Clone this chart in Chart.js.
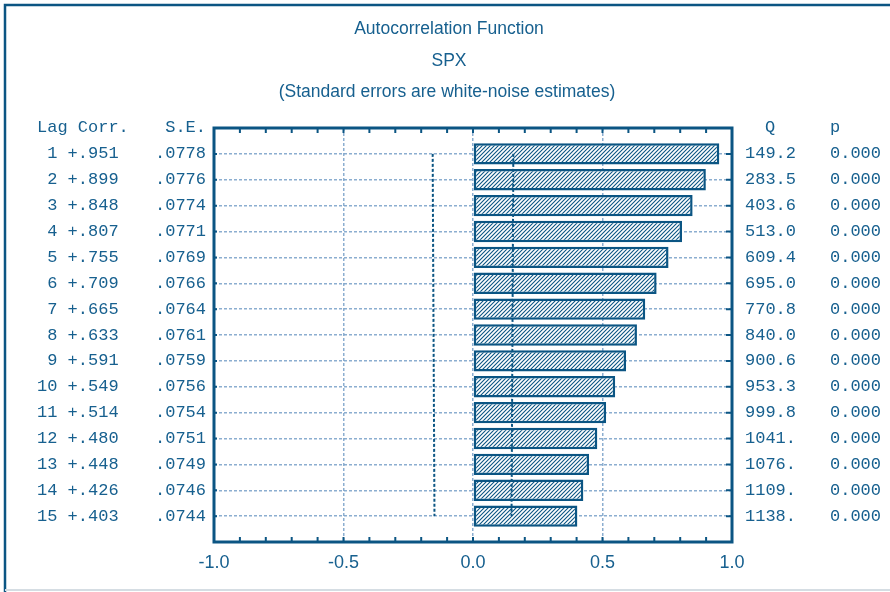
<!DOCTYPE html>
<html>
<head>
<meta charset="utf-8">
<script src="https://cdn.jsdelivr.net/npm/chart.js@4"></script>
<style>
  html, body { margin: 0; padding: 0; background: #fff; }
  #wrap { width: 890px; height: 592px; }
</style>
</head>
<body>
<div id="wrap"><canvas id="acfChart" width="890" height="592"></canvas></div>
<script>
const lags = [1, 2, 3, 4, 5, 6, 7, 8, 9, 10, 11, 12, 13, 14, 15];
const corr = [0.951, 0.899, 0.848, 0.807, 0.755, 0.709, 0.665, 0.633, 0.591, 0.549, 0.514, 0.480, 0.448, 0.426, 0.403];
const stdErr = [0.0778, 0.0776, 0.0774, 0.0771, 0.0769, 0.0766, 0.0764, 0.0761, 0.0759, 0.0756, 0.0754, 0.0751, 0.0749, 0.0746, 0.0744];
const qStats = ["149.2", "283.5", "403.6", "513.0", "609.4", "695.0", "770.8", "840.0", "900.6", "953.3", "999.8", "1041.", "1076.", "1109.", "1138."];
const pValues = ["0.000", "0.000", "0.000", "0.000", "0.000", "0.000", "0.000", "0.000", "0.000", "0.000", "0.000", "0.000", "0.000", "0.000", "0.000"];
const xTicks = [-1, -0.5, 0, 0.5, 1];
const titleLines = ["Autocorrelation Function", "SPX", "(Standard errors are white-noise estimates)"];

const dark = "#0b5583";
const textCol = "#17608f";
const gridCol = "rgba(120,160,200,0.85)";

// hatch fill for the bars
function hatch() {
  const c = document.createElement("canvas");
  c.width = 4; c.height = 4;
  const g = c.getContext("2d");
  g.fillStyle = "#fff";
  g.fillRect(0, 0, 4, 4);
  g.strokeStyle = dark;
  g.lineWidth = 1.1;
  g.beginPath();
  g.moveTo(0, 4); g.lineTo(4, 0);
  g.moveTo(-1, 1); g.lineTo(1, -1);
  g.moveTo(3, 5); g.lineTo(5, 3);
  g.stroke();
  return g.createPattern(c, "repeat");
}

const framePlugin = {
  id: "frame",
  beforeDraw(chart) {
    const ctx = chart.ctx;
    ctx.save();
    ctx.strokeStyle = dark;
    ctx.lineWidth = 2.5;
    ctx.beginPath();
    ctx.moveTo(5, 592); ctx.lineTo(5, 5); ctx.lineTo(890, 5);
    ctx.stroke();
    ctx.strokeStyle = "#d5dde3";
    ctx.lineWidth = 2;
    ctx.beginPath();
    ctx.moveTo(5, 590); ctx.lineTo(890, 590);
    ctx.stroke();
    ctx.restore();
  },
  afterDraw(chart) {
    const ctx = chart.ctx;
    const a = chart.chartArea;
    const xs = chart.scales.x, ys = chart.scales.y;
    ctx.save();
    // axis box
    ctx.strokeStyle = dark;
    ctx.lineWidth = 3;
    ctx.strokeRect(a.left, a.top, a.right - a.left, a.bottom - a.top);
    // inward ticks
    ctx.lineWidth = 2;
    ctx.beginPath();
    for (let k = -9; k <= 9; k++) {
      const px = xs.getPixelForValue(k / 10);
      ctx.moveTo(px, a.top); ctx.lineTo(px, a.top + 5);
      ctx.moveTo(px, a.bottom); ctx.lineTo(px, a.bottom - 5);
    }
    lags.forEach(l => {
      const py = ys.getPixelForValue(l);
      ctx.moveTo(a.right, py); ctx.lineTo(a.right - 6, py);
      ctx.moveTo(a.left, py); ctx.lineTo(a.left + 3, py);
    });
    ctx.stroke();

    // titles
    ctx.fillStyle = textCol;
    ctx.textBaseline = "middle";
    ctx.textAlign = "center";
    ctx.font = '17.5px "Liberation Sans", Arial, sans-serif';
    ctx.fillText(titleLines[0], 449, 29);
    ctx.fillText(titleLines[1], 449, 61);
    ctx.fillText(titleLines[2], 447, 92);

    // table columns
    ctx.font = '17px "Liberation Mono", "Courier New", monospace';
    const headY = 127;
    ctx.textAlign = "left";
    ctx.fillText("Lag Corr.", 37, headY);
    ctx.fillText("Q", 765, headY);
    ctx.fillText("p", 830, headY);
    ctx.textAlign = "right";
    ctx.fillText("S.E.", 206, headY);
    lags.forEach((l, i) => {
      const py = ys.getPixelForValue(l);
      const c = (corr[i] >= 0 ? "+" : "-") + Math.abs(corr[i]).toFixed(3).slice(1);
      ctx.textAlign = "left";
      ctx.fillText(String(l).padStart(2, " ") + " " + c, 37, py);
      ctx.fillText(qStats[i], 745, py);
      ctx.fillText(pValues[i], 830, py);
      ctx.textAlign = "right";
      ctx.fillText(stdErr[i].toFixed(4).slice(1), 206, py);
    });
    ctx.restore();
  }
};

const ctx = document.getElementById("acfChart");

new Chart(ctx, {
  data: {
    datasets: [
      {
        type: "bar",
        indexAxis: "y",
        data: lags.map((l, i) => ({ x: corr[i], y: l })),
        backgroundColor: hatch(),
        borderColor: dark,
        borderWidth: 2.5,
        borderSkipped: false,
        barPercentage: 0.83,
        categoryPercentage: 1,
        order: 2,
      },
      {
        type: "line",
        indexAxis: "y",
        data: lags.map((l, i) => ({ x: -2 * stdErr[i], y: l })),
        borderColor: dark,
        borderWidth: 2,
        borderDash: [3, 2],
        pointRadius: 0,
        fill: false,
        order: 1,
      },
      {
        type: "line",
        indexAxis: "y",
        data: lags.map((l, i) => ({ x: 2 * stdErr[i], y: l })),
        borderColor: dark,
        borderWidth: 2,
        borderDash: [3, 2],
        pointRadius: 0,
        fill: false,
        order: 1,
      },
    ],
  },
  options: {
    responsive: false,
    animation: false,
    layout: { padding: { left: 214, right: 158, top: 128, bottom: 0 } },
    plugins: {
      legend: { display: false },
      tooltip: { enabled: false },
    },
    scales: {
      x: {
        type: "linear",
        min: -1,
        max: 1,
        offset: false,
        afterBuildTicks: s => { s.ticks = xTicks.map(v => ({ value: v })); },
        afterFit: s => { s.height = 50; },
        ticks: {
          callback: v => v.toFixed(1),
          color: textCol,
          font: { family: '"Liberation Sans", Arial, sans-serif', size: 18 },
          padding: 10,
          maxRotation: 0,
        },
        grid: { color: gridCol, lineWidth: 1.5, drawTicks: false, offset: false },
        border: { display: false, dash: [3, 2] },
      },
      y: {
        type: "linear",
        min: 0,
        max: 16,
        reverse: true,
        offset: false,
        afterBuildTicks: s => { s.ticks = lags.map(v => ({ value: v })); },
        afterFit: s => { s.width = 0; },
        ticks: { display: false },
        grid: { color: gridCol, lineWidth: 1.5, drawTicks: false, offset: false },
        border: { display: false, dash: [3, 2] },
      },
    },
  },
  plugins: [framePlugin],
});
</script>
</body>
</html>
